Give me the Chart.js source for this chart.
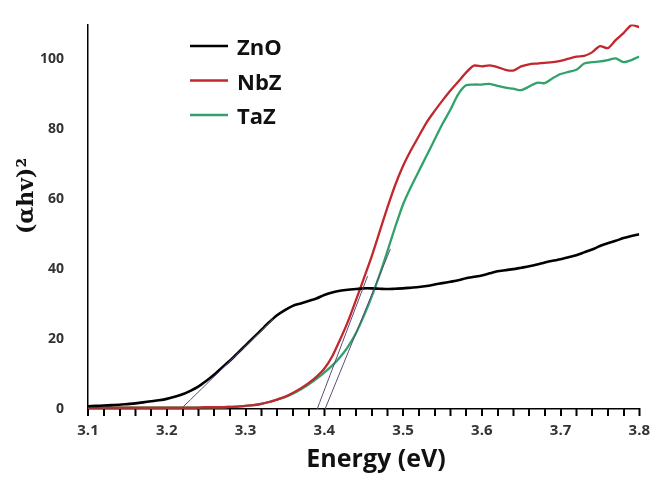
<!DOCTYPE html>
<html>
<head>
<meta charset="utf-8">
<script src="https://cdn.jsdelivr.net/npm/chart.js@4.4.1/dist/chart.umd.min.js"></script>
<style>
  html, body { margin: 0; padding: 0; background: #fff; }
  canvas { display: block; }
</style>
</head>
<body>
<canvas id="tauc" width="656" height="480"></canvas>
<script>
// photon energy (eV)
const energy = [
  3.10, 3.11, 3.12, 3.13, 3.14, 3.15, 3.16, 3.17, 3.18, 3.19,
  3.20, 3.21, 3.22, 3.23, 3.24, 3.25, 3.26, 3.27, 3.28, 3.29,
  3.30, 3.31, 3.32, 3.33, 3.34, 3.35, 3.36, 3.37, 3.38, 3.39,
  3.40, 3.41, 3.42, 3.43, 3.44, 3.45, 3.46, 3.47, 3.48, 3.49,
  3.50, 3.51, 3.52, 3.53, 3.54, 3.55, 3.56, 3.57, 3.58, 3.59,
  3.60, 3.61, 3.62, 3.63, 3.64, 3.65, 3.66, 3.67, 3.68, 3.69,
  3.70, 3.71, 3.72, 3.73, 3.74, 3.75, 3.76, 3.77, 3.78, 3.79,
  3.80
];

// (αhv)^2
const zno = [
  0.8, 0.9, 1.0, 1.1, 1.2, 1.4, 1.6, 1.9, 2.2, 2.5,
  2.9, 3.5, 4.2, 5.2, 6.4, 8.0, 9.8, 11.8, 13.8, 16.0,
  18.2, 20.4, 22.6, 24.8, 26.8, 28.3, 29.5, 30.2, 30.9, 31.6,
  32.6, 33.3, 33.8, 34.1, 34.3, 34.5, 34.5, 34.4, 34.3, 34.4,
  34.5, 34.7, 34.9, 35.2, 35.6, 36.0, 36.4, 36.8, 37.4, 37.8,
  38.2, 38.8, 39.4, 39.7, 40.0, 40.4, 40.8, 41.3, 41.9, 42.4,
  42.8, 43.4, 44.0, 44.8, 45.6, 46.6, 47.4, 48.1, 48.9, 49.5,
  50.0
];
const nbz = [
  0.4, 0.4, 0.4, 0.4, 0.4, 0.4, 0.4, 0.4, 0.4, 0.4,
  0.4, 0.4, 0.4, 0.4, 0.4, 0.5, 0.5, 0.5, 0.6, 0.7,
  0.9, 1.1, 1.5, 2.0, 2.7, 3.5, 4.6, 5.9, 7.4, 9.2,
  11.5, 15.0, 19.8, 25.0, 31.0, 37.2, 43.5, 50.5, 57.5, 64.0,
  69.5, 74.0, 78.0, 82.0, 85.2, 88.2, 91.0, 93.6, 96.2, 98.2,
  98.0, 98.3, 97.8, 97.0, 96.8, 98.0, 98.6, 98.8, 99.0, 99.2,
  99.6, 100.2, 100.8, 101.0, 102.0, 103.8, 103.2, 105.5, 107.5, 109.8,
  109.2
];
const taz = [
  0.4, 0.4, 0.4, 0.4, 0.4, 0.4, 0.4, 0.4, 0.4, 0.4,
  0.4, 0.4, 0.4, 0.4, 0.4, 0.5, 0.5, 0.5, 0.6, 0.7,
  0.9, 1.1, 1.5, 2.0, 2.7, 3.4, 4.4, 5.6, 7.0, 8.6,
  10.4, 12.4, 14.8, 17.8, 21.6, 26.5, 32.0, 38.2, 45.0, 52.0,
  58.5, 63.5, 68.0, 72.5, 77.0, 81.5, 85.5, 90.0, 92.6, 92.8,
  92.8, 93.0, 92.4, 91.9, 91.6, 91.2, 92.2, 93.3, 93.2, 94.6,
  95.8, 96.4, 97.0, 98.8, 99.2, 99.4, 99.8, 100.3, 99.2, 99.8,
  100.8
];

// band-gap extrapolation lines [energy, value]
const znoTangent = [[3.218, 0], [3.335, 25.7]];
const nbzTangent = [[3.391, 0], [3.455, 38]];
const tazTangent = [[3.401, 0], [3.484, 45.8]];

const xTickLabels = ['3.1', '3.2', '3.3', '3.4', '3.5', '3.6', '3.7', '3.8'];
const yTickValues = [0, 20, 40, 60, 80, 100];

const toPoints = (ys) => ys.map((y, i) => ({ x: energy[i], y: y }));
const toLine = (pts) => pts.map(p => ({ x: p[0], y: p[1] }));

const tickFont = { family: 'Open Sans', weight: 'bold', size: 14 };

// minor/major tick marks under the x axis, taken from the x scale itself
const xTickMarks = {
  id: 'xTickMarks',
  afterDraw(chart) {
    const ctx = chart.ctx;
    const xs = chart.scales.x;
    const axisY = Math.round(chart.chartArea.bottom);
    ctx.save();
    ctx.fillStyle = '#000';
    xs.ticks.forEach(t => {
      const px = Math.round(xs.getPixelForValue(t.value));
      ctx.fillRect(px - 0.5, axisY, 1.5, 7);
    });
    ctx.restore();
  }
};

// legend + axis titles drawn in place, like the original figure
const figureText = {
  id: 'figureText',
  afterDraw(chart) {
    const ctx = chart.ctx;
    ctx.save();
    let row = 0;
    chart.data.datasets.forEach(ds => {
      if (!ds.inLegend) return;
      const y = 48 + row * 34.5;
      ctx.strokeStyle = ds.borderColor;
      ctx.lineWidth = 2.5;
      ctx.beginPath();
      ctx.moveTo(190, y - 2);
      ctx.lineTo(228, y - 2);
      ctx.stroke();
      ctx.fillStyle = '#111';
      ctx.font = 'bold 22px "Open Sans"';
      ctx.textBaseline = 'middle';
      ctx.textAlign = 'left';
      ctx.fillText(ds.label, 237, y + 1);
      row++;
    });

    ctx.fillStyle = '#111';
    ctx.font = 'bold 25px "Open Sans"';
    ctx.textAlign = 'center';
    ctx.textBaseline = 'middle';
    ctx.fillText('Energy (eV)', 376, 460);

    ctx.translate(27, 196);
    ctx.rotate(-Math.PI / 2);
    ctx.font = 'bold 22px "DejaVu Serif"';
    ctx.fillText('(\u03b1hv)\u00b2', 0, 0);
    ctx.restore();
  }
};

new Chart(document.getElementById('tauc'), {
  type: 'line',
  data: {
    datasets: [
      { label: 'ZnO', inLegend: true, data: toPoints(zno), borderColor: '#000000', borderWidth: 2.6, order: 1 },
      { label: 'NbZ', inLegend: true, data: toPoints(nbz), borderColor: '#c1272d', borderWidth: 2.3, order: 2 },
      { label: 'TaZ', inLegend: true, data: toPoints(taz), borderColor: '#2fa36b', borderWidth: 2.3, order: 3 },
      { label: 'ZnO fit', data: toLine(znoTangent), borderColor: '#5d4a78', borderWidth: 1, order: 0 },
      { label: 'NbZ fit', data: toLine(nbzTangent), borderColor: '#5d4a78', borderWidth: 1, order: 0 },
      { label: 'TaZ fit', data: toLine(tazTangent), borderColor: '#5d4a78', borderWidth: 1, order: 0 }
    ]
  },
  options: {
    responsive: false,
    animation: false,
    layout: { padding: { top: 15, right: 12.7, left: 0, bottom: 0 } },
    elements: {
      point: { radius: 0 },
      line: { tension: 0.25, fill: false }
    },
    plugins: {
      legend: { display: false },
      tooltip: { enabled: false }
    },
    scales: {
      x: {
        type: 'linear',
        min: 3.1,
        max: 3.8,
        afterFit(scale) { scale.height = 71; },
        grid: { drawOnChartArea: false, drawTicks: true, tickLength: 7, color: '#000', lineWidth: 1.5 },
        border: { color: '#000', width: 1.5 },
        ticks: {
          stepSize: 0.02,
          maxTicksLimit: 100,
          autoSkip: false,
          maxRotation: 0,
          padding: 6,
          color: '#333',
          font: { family: 'Open Sans', weight: 'bold', size: 15 },
          callback(v) {
            const lbl = (Math.round(v * 100) / 100).toFixed(1);
            return Math.abs(v * 10 - Math.round(v * 10)) < 1e-6 && xTickLabels.includes(lbl) ? lbl : '';
          }
        }
      },
      y: {
        min: 0,
        max: 110,
        afterFit(scale) { scale.width = 88; },
        afterBuildTicks(scale) { scale.ticks = yTickValues.map(v => ({ value: v })); },
        grid: { display: false },
        border: { color: '#000', width: 1.5 },
        ticks: { padding: 16, color: '#333', font: tickFont }
      }
    }
  },
  plugins: [xTickMarks, figureText]
});
</script>
</body>
</html>
